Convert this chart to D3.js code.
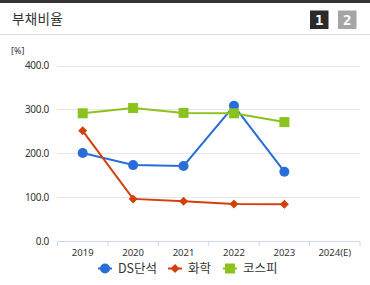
<!DOCTYPE html>
<html>
<head>
<meta charset="utf-8">
<script src="https://cdn.jsdelivr.net/npm/d3@7"></script>
<style>
  body { margin: 0; background: #fff; font-family: "Noto Sans CJK KR", "Noto Sans", sans-serif; }
  #chart { width: 370px; height: 285px; }
</style>
</head>
<body>
<div id="chart"></div>
<script>
// data
const years = ["2019", "2020", "2021", "2022", "2023", "2024(E)"];
const dsValues = [200.5, 173.0, 171.0, 308.0, 158.0, null];
const chemValues = [251.0, 96.0, 90.5, 84.5, 84.0, null];
const kospiValues = [291.0, 303.0, 292.0, 291.0, 271.0, null];
const yTicks = [0, 100, 200, 300, 400];

const series = [
  { name: "DS단석", values: dsValues, color: "#2a6dd9", shape: "circle" },
  { name: "화학", values: chemValues, color: "#d2410c", shape: "diamond" },
  { name: "코스피", values: kospiValues, color: "#8cc21d", shape: "square" }
];

const W = 370, H = 285;
const svg = d3.select("#chart").append("svg")
  .attr("width", W).attr("height", H);

// header
svg.append("rect").attr("x", 0).attr("y", 0).attr("width", W).attr("height", 3).attr("fill", "#333");
svg.append("line").attr("x1", 0).attr("x2", W).attr("y1", 34.5).attr("y2", 34.5)
  .attr("stroke", "#ddd");
svg.append("text").attr("x", 12).attr("y", 24)
  .attr("font-size", 13.5).attr("fill", "#333").attr("letter-spacing", 0.3).text("부채비율");

const btns = [{ label: "1", x: 310, fill: "#2b2b2b" }, { label: "2", x: 338, fill: "#a5a5a5" }];
btns.forEach(b => {
  svg.append("rect").attr("x", b.x).attr("y", 10.5).attr("width", 18.5).attr("height", 18.5).attr("fill", b.fill);
  svg.append("text").attr("x", b.x + 9.25).attr("y", 24.5).attr("text-anchor", "middle")
    .attr("font-size", 14).attr("font-weight", "bold").attr("font-family", "DejaVu Sans Mono, monospace")
    .attr("fill", "#fff").text(b.label);
});

// scales
const x = d3.scaleBand().domain(years).range([57.5, 360]);
const y = d3.scaleLinear().domain([0, 400]).range([241, 65.5]);

const g = svg.append("g").attr("font-family", "Noto Sans, sans-serif");

// gridlines
g.selectAll(".grid").data(yTicks.filter(d => d > 0)).enter().append("line")
  .attr("x1", 57.5).attr("x2", 360)
  .attr("y1", d => Math.round(y(d)) + 0.5).attr("y2", d => Math.round(y(d)) + 0.5)
  .attr("stroke", "#e6e6e6");

// y labels
g.selectAll(".ylab").data(yTicks).enter().append("text")
  .attr("x", 49).attr("y", d => y(d) + 3.5)
  .attr("text-anchor", "end").attr("font-size", 10).attr("fill", "#333").attr("letter-spacing", -0.3)
  .text(d => d3.format(".1f")(d));

g.append("text").attr("x", 11).attr("y", 54).attr("font-size", 9).attr("fill", "#333").text("[%]");

// x axis
const xAxis = d3.axisBottom(x).tickSize(5).tickSizeOuter(5);
const ax = g.append("g").attr("transform", "translate(0," + 241.5 + ")").call(xAxis);
ax.select(".domain").attr("stroke", "#ccd6eb").attr("d", "M57.5,0H360");
ax.selectAll(".tick line").attr("stroke", "#ccd6eb").attr("y1", 0).attr("y2", 5)
  .attr("transform", "translate(" + (-x.bandwidth() / 2) + ",0)");
ax.selectAll(".tick text").attr("font-size", 9.5).attr("fill", "#333").attr("y", 14).attr("dy", null)
  .attr("font-family", "Noto Sans, sans-serif");
ax.append("line").attr("x1", 360).attr("x2", 360).attr("y1", 0).attr("y2", 5).attr("stroke", "#ccd6eb");

// lines
const line = d3.line()
  .defined(d => d.v != null)
  .x(d => x(d.year) + x.bandwidth() / 2)
  .y(d => y(d.v));

function marker(sel, shape, color) {
  if (shape === "circle") {
    sel.append("circle").attr("r", 5).attr("fill", color);
  } else if (shape === "diamond") {
    sel.append("path").attr("d", "M0,-4.5L4.5,0L0,4.5L-4.5,0Z").attr("fill", color);
  } else {
    sel.append("rect").attr("x", -5).attr("y", -5).attr("width", 10).attr("height", 10).attr("fill", color);
  }
}

series.forEach(s => {
  const pts = years.map((yr, i) => ({ year: yr, v: s.values[i] }));
  g.append("path").datum(pts).attr("d", line)
    .attr("fill", "none").attr("stroke", s.color).attr("stroke-width", 2);
  pts.filter(d => d.v != null).forEach(d => {
    const m = g.append("g").attr("transform", "translate(" + (x(d.year) + x.bandwidth() / 2) + "," + y(d.v) + ")");
    marker(m, s.shape, s.color);
  });
});

// legend
const legendX = [105, 175, 230];
series.forEach((s, i) => {
  const lg = svg.append("g").attr("transform", "translate(" + legendX[i] + ",268.5)");
  lg.append("line").attr("x1", -7).attr("x2", 7).attr("stroke", s.color).attr("stroke-width", 2);
  marker(lg, s.shape, s.color);
  lg.append("text").attr("x", 13).attr("y", 4.5).attr("font-size", 12.5).attr("fill", "#333")
    .attr("font-family", "Noto Sans CJK KR, sans-serif").text(s.name);
});
</script>
</body>
</html>
